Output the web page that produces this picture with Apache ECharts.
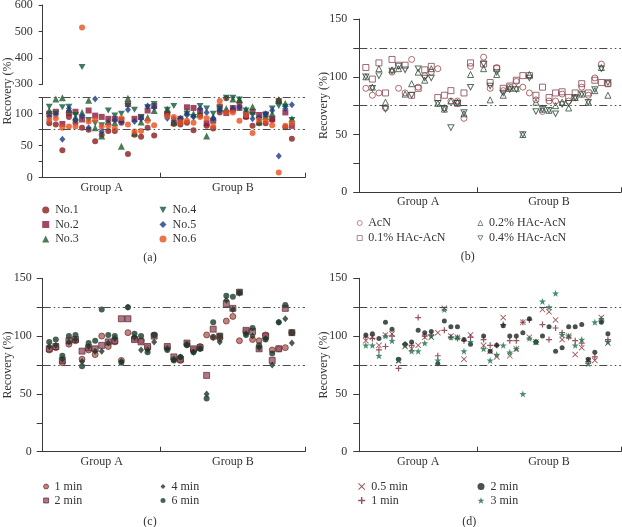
<!DOCTYPE html>
<html><head><meta charset="utf-8">
<script src="https://cdn.jsdelivr.net/npm/echarts@6/dist/echarts.min.js"></script>
<style>html,body{margin:0;padding:0;background:#fff}#c{width:622px;height:527px}</style>
</head><body><div id="c"></div>
<script>
// ---- data ----
const positions = [1,2,3,4,5,6,7,8,9,10,11,12,13,14,15,16,17,19,20,21,22,23,24,25,26,27,28,29,30,31,32,33,34,35,36,37,38];
const groupLabels = ['Group A','Group B'];
const groupBoundary = 18, axisEnd = 40;
const refLines = [75, 125];

// panel (a)
const aNames = ['No.1','No.2','No.3','No.4','No.5','No.6'];
const aNo1 = [85,83,43,95,86,78,75,57,67,73,73,86,37,67,64,78,66, 100,84,83,86,74,97,81,77,102,124,105,117,95,81,85,85,90,119,79,61];
const aNo2 = [100,103,84,101,103,91,105,97,95,92,92,90,115,92,95,105,112, 100,86,92,110,109,104,85,89,111,101,109,109,96,103,98,99,92,120,102,81];
const aNo3 = [105,123,125,106,95,102,121,78,65,88,86,49,124,70,87,94,105, 107,87,90,103,100,100,65,95,109,108,123,122,107,111,87,96,100,122,116,92];
const aNo4 = [111,100,110,111,98,365,90,85,82,105,97,100,112,106,94,110,115, 106,112,88,100,95,112,108,100,108,125,125,122,105,98,90,98,108,112,111,90];
const aNo5 = [95,98,60,108,90,96,78,123,72,85,90,88,106,88,92,112,110, 93,92,93,98,95,108,102,93,105,103,108,110,100,92,94,100,105,34,108,114];
const aNo6 = [90,93,78,80,80,515,88,90,80,81,77,93,83,72,73,89,82, 96,95,87,89,86,95,93,80,120,102,102,89,98,70,90,89,82,8,81,86];

// panel (b)
const bNames = ['AcN','0.1% HAc-AcN','0.2% HAc-AcN','0.4% HAc-AcN'];
const bAcN = [90,84,86,73,104,90,86,115,91,101,104,107,73,79,79,64,109, 117,90,108,88,91,96,91,86,80,70,79,79,85,79,82,91,84,99,111,94];
const bHAc01 = [108,98,112,86,115,110,110,84,90,106,109,82,84,88,77,86,112, 111,95,107,90,92,97,101,101,84,91,82,86,87,82,86,94,86,97,95,94];
const bHAc02 = [100,91,107,78,106,107,85,94,104,97,107,77,72,79,78,68,102, 107,80,102,84,90,90,50,102,78,72,71,75,78,73,82,85,78,88,108,84];
const bHAc04 = [100,90,101,72,105,109,106,84,107,99,99,77,72,56,77,69,91, 111,92,104,86,89,89,50,99,70,72,71,68,76,77,82,85,78,89,107,95];

// panel (c)
const cNames = ['1 min','2 min','4 min','6 min'];
const c1 = [88,90,77,93,96,80,88,84,100,91,95,79,103,98,96,90,101, 90,80,79,93,88,91,101,99,98,113,117,96,104,97,96,101,88,89,90,103];
const c2 = [89,91,79,96,97,87,90,89,92,95,96,115,115,97,95,91,100, 91,82,80,94,89,90,66,106,100,128,124,138,105,104,89,100,79,89,124,103];
const c4 = [91,92,80,95,97,78,91,87,87,94,98,78,125,99,88,88,95, 89,80,82,93,86,89,50,99,95,131,123,137,102,100,90,98,75,112,115,94];
const c6 = [95,97,83,100,101,74,94,96,123,101,100,77,125,102,100,86,101, 88,79,82,92,86,89,46,112,100,135,134,138,101,107,92,97,85,112,127,103];

// panel (d)
const dNames = ['0.5 min','1 min','2 min','3 min'];
const d05 = [96,99,92,101,102,79,91,89,92,99,99,103,124,100,99,80,101, 92,87,82,116,83,89,112,99,95,123,121,114,97,100,84,90,79,79,116,94];
const d1 = [99,98,88,91,100,72,93,92,116,100,101,83,105,99,98,96,99, 97,92,92,110,96,96,112,114,95,110,97,107,103,99,96,94,78,82,113,97];
const d2 = [101,102,98,112,106,80,93,95,105,103,104,76,113,108,108,97,93, 100,87,92,109,100,100,103,115,95,100,108,87,90,108,108,110,80,86,112,102];
const d3 = [92,92,83,100,96,79,92,87,87,94,100,79,123,99,99,87,95, 89,79,84,92,86,89,50,98,95,130,125,137,101,100,92,97,76,112,115,95];

// ---- styling ----
const FONT = 'Liberation Serif';
const TXT = '#333';
const AX = '#3a3a3a';
const DOWN = 'path://M0,0 L10,0 L5,9 Z';
const CROSS = 'path://M-5,-4 L-4,-5 L0,-1 L4,-5 L5,-4 L1,0 L5,4 L4,5 L0,1 L-4,5 L-5,4 L-1,0 Z';
const PLUS = 'path://M-1,-5 L1,-5 L1,-1 L5,-1 L5,1 L1,1 L1,5 L-1,5 L-1,1 L-5,1 L-5,-1 L-1,-1 Z';
const STAR = 'path://M0,-10 L2.35,-3.24 L9.51,-3.09 L3.8,1.24 L5.88,8.09 L0,4 L-5.88,8.09 L-3.8,1.24 L-9.51,-3.09 L-2.35,-3.24 Z';

function pts(vals, keep){ return vals.map((v,i)=> keep(v) ? [positions[i], v] : null).filter(Boolean); }
const all = () => true;

const mark = {silent:true, symbol:['none','none'], label:{show:false},
  lineStyle:{color:'#4a4a4a', width:1, type:[8,3,1.5,3,1.5,3]}, emphasis:{disabled:true},
  data: refLines.map(v=>({yAxis:v}))};

function xAx(g, show){
  return {type:'value', gridIndex:g, min:0, max:axisEnd, show:show,
    axisLine:{show:true, onZero:false, lineStyle:{color:AX}},
    axisTick:{show:true, inside:true, length:5, customValues:[groupBoundary, axisEnd], lineStyle:{color:AX}},
    axisLabel:{show:true, customValues:[groupBoundary/2, (groupBoundary+axisEnd)/2],
      formatter:v=> v<groupBoundary?groupLabels[0]:groupLabels[1], margin:4, color:TXT, fontFamily:FONT, fontSize:12},
    splitLine:{show:false}};
}
function yAx(g, min, max, interval, labelEvery, margin, tickLen){
  return {type:'value', gridIndex:g, min:min, max:max, interval:interval,
    axisLine:{show:true, lineStyle:{color:AX}},
    axisTick:{show:true, length:tickLen, lineStyle:{color:AX}},
    axisLabel:{formatter:v=> v%labelEvery===0 ? String(v) : '', margin:margin, color:TXT, fontFamily:FONT, fontSize:12},
    splitLine:{show:false}};
}

const aStyles = [
  {symbol:'circle', symbolSize:6, itemStyle:{color:'#8b1c1c'}},
  {symbol:'rect', symbolSize:6, itemStyle:{color:'#8c1a3c'}},
  {symbol:'triangle', symbolSize:7, itemStyle:{color:'#1f5a2a'}},
  {symbol:DOWN, symbolSize:[7,6], itemStyle:{color:'#0e5a3a'}},
  {symbol:'diamond', symbolSize:[6,7], itemStyle:{color:'#1b3a8c'}},
  {symbol:'circle', symbolSize:6, itemStyle:{color:'#e8501e'}}
];
const aData = [aNo1,aNo2,aNo3,aNo4,aNo5,aNo6];
const bStyles = [
  {symbol:'circle', symbolSize:6, itemStyle:{color:'rgba(255,255,255,0)', borderColor:'#9b4545', borderWidth:1}},
  {symbol:'rect', symbolSize:6, itemStyle:{color:'rgba(255,255,255,0)', borderColor:'#864452', borderWidth:1}},
  {symbol:'triangle', symbolSize:6, itemStyle:{color:'rgba(255,255,255,0)', borderColor:'#2e4a3a', borderWidth:1}},
  {symbol:DOWN, symbolSize:[6,5.5], itemStyle:{color:'rgba(255,255,255,0)', borderColor:'#2e4a3a', borderWidth:1}}
];
const bData = [bAcN,bHAc01,bHAc02,bHAc04];
const cStyles = [
  {symbol:'circle', symbolSize:6, itemStyle:{color:'#b5645c', borderColor:'#5a2222', borderWidth:0.8}},
  {symbol:'rect', symbolSize:6, itemStyle:{color:'#9a5566', borderColor:'#4a1a22', borderWidth:0.8}},
  {symbol:'diamond', symbolSize:[6,7], itemStyle:{color:'#1d3326'}},
  {symbol:'circle', symbolSize:6, itemStyle:{color:'#1d3a2c'}}
];
const cData = [c1,c2,c4,c6];
const dStyles = [
  {symbol:CROSS, symbolSize:6, itemStyle:{color:'#8a2a2a'}},
  {symbol:PLUS, symbolSize:6, itemStyle:{color:'#7a2a3a'}},
  {symbol:'circle', symbolSize:5, itemStyle:{color:'#1a2520'}},
  {symbol:STAR, symbolSize:7, itemStyle:{color:'#1a6e4a'}}
];
const dData = [d05,d1,d2,d3];

const series = [];
aNames.forEach((n,i)=>{
  series.push(Object.assign({type:'scatter', name:'a|'+n, xAxisIndex:0, yAxisIndex:0, clip:false,
    data:pts(aData[i], v=>v<=150)}, aStyles[i], i===0?{markLine:mark}:{}));
});
aNames.forEach((n,i)=>{
  series.push(Object.assign({type:'scatter', name:'a|'+n, xAxisIndex:1, yAxisIndex:1, clip:false,
    data:pts(aData[i], v=>v>=300)}, aStyles[i]));
});
bNames.forEach((n,i)=>{
  series.push(Object.assign({type:'scatter', name:'b|'+n, xAxisIndex:2, yAxisIndex:2,
    data:pts(bData[i], all)}, bStyles[i], i===0?{markLine:mark}:{}));
});
cNames.forEach((n,i)=>{
  series.push(Object.assign({type:'scatter', name:'c|'+n, xAxisIndex:3, yAxisIndex:3,
    data:pts(cData[i], all)}, cStyles[i], i===0?{markLine:mark}:{}));
});
dNames.forEach((n,i)=>{
  series.push(Object.assign({type:'scatter', name:'d|'+n, xAxisIndex:4, yAxisIndex:4,
    data:pts(dData[i], all)}, dStyles[i], i===0?{markLine:mark}:{}));
});

function leg(left, top, names, gap, size, extra){
  return Object.assign({left:left, top:top, orient:'vertical', itemWidth:size, itemHeight:size, itemGap:gap, selectedMode:false,
    data:names, formatter:n=>n.split('|')[1],
    textStyle:{color:TXT, fontFamily:FONT, fontSize:12, padding:[0,0,0,1]}, padding:0}, extra||{});
}
const P = p => names => names.map(n=>p+'|'+n);
const thin = {itemStyle:{borderWidth:0.8}};

function txt(x, y, s, rot){
  return {type:'text', x:x, y:y, rotation:rot||0,
    style:{text:s, align:'center', verticalAlign:'middle', fill:TXT, fontFamily:FONT, fontSize:12}};
}

const option = {
  animation:false,
  backgroundColor:'#fff',
  grid:[
    {left:42.7, top:97.7, width:262.3, height:80, containLabel:false, outerBoundsMode:'none'},
    {left:42.7, top:5, width:262.3, height:79.3, containLabel:false, outerBoundsMode:'none'},
    {left:359.3, top:19, width:261.7, height:173.3, containLabel:false, outerBoundsMode:'none'},
    {left:42.7, top:278.3, width:262.3, height:173.4, containLabel:false, outerBoundsMode:'none'},
    {left:359.3, top:278.3, width:261.7, height:173.4, containLabel:false, outerBoundsMode:'none'}
  ],
  xAxis:[xAx(0,true), xAx(1,false), xAx(2,true), xAx(3,true), xAx(4,true)],
  yAxis:[
    yAx(0,0,125,25,50,10,4),
    yAx(1,300,600,100,100,10,4),
    yAx(2,0,150,25,50,12,6),
    yAx(3,0,150,25,50,11,6),
    yAx(4,0,150,25,50,12,6)
  ],
  legend:[
    leg(42.2, 204, P('a')(aNames.slice(0,3)), 2.5, 7),
    leg(159.5, 204, P('a')(aNames.slice(3)), 2.5, 7),
    leg(356.8, 217, P('b')([bNames[0],bNames[1]]), 3, 5, thin),
    leg(477.5, 217, P('b')([bNames[2],bNames[3]]), 3, 5, thin),
    leg(43.2, 480.5, P('c')([cNames[0],cNames[1]]), 2, 5, thin),
    leg(160.5, 480.5, P('c')([cNames[2],cNames[3]]), 2, 5, thin),
    leg(358.2, 480.5, P('d')([dNames[0],dNames[1]]), 2, 7),
    leg(477.5, 480.5, P('d')([dNames[2],dNames[3]]), 2, 7)
  ],
  graphic:[
    txt(8, 91, 'Recovery (%)', Math.PI/2),
    txt(323.5, 105.6, 'Recovery (%)', Math.PI/2),
    txt(7.5, 365, 'Recovery (%)', Math.PI/2),
    txt(323.5, 365, 'Recovery (%)', Math.PI/2),
    txt(150, 258.3, '(a)'),
    txt(467.7, 256.7, '(b)'),
    txt(150, 521.7, '(c)'),
    txt(469.3, 521.7, '(d)')
  ],
  series:series
};
const chart = echarts.init(document.getElementById('c'), null, {renderer:'canvas'});
chart.setOption(option);
</script></body></html>
